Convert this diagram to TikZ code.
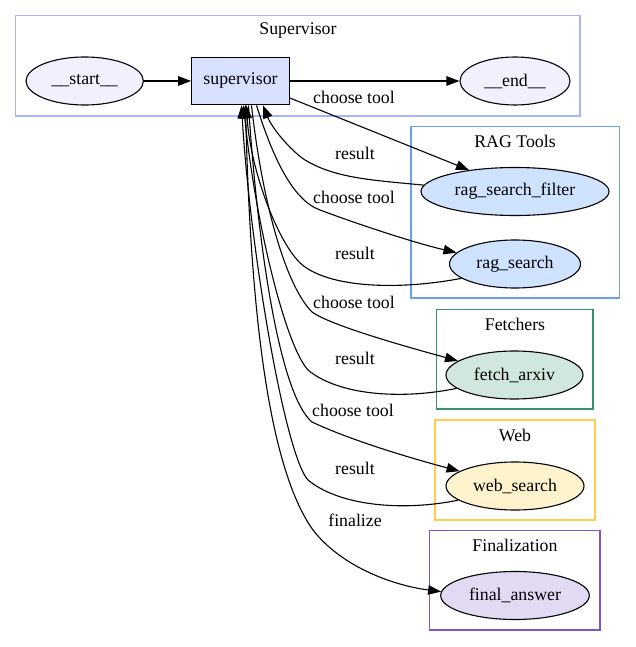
\documentclass[tikz,border=0pt]{standalone}
\usepackage{fontspec}
\newfontfamily\gvfont{LiberationSerif}[Extension=.ttf,UprightFont=*-Regular]
\usetikzlibrary{shapes.geometric,arrows.meta}
\definecolor{cSupB}{HTML}{A5B4FC}
\definecolor{cRagB}{HTML}{6A9EF5}
\definecolor{cFetB}{HTML}{3A8F68}
\definecolor{cWebB}{HTML}{FFCD4A}
\definecolor{cFinB}{HTML}{7A55CC}
\definecolor{cSE}{HTML}{F2F0FF}
\definecolor{cSup}{HTML}{D8E0FF}
\definecolor{cRag}{HTML}{CFE2FF}
\definecolor{cFet}{HTML}{D1E7DD}
\definecolor{cWeb}{HTML}{FFF3CD}
\definecolor{cFin}{HTML}{E2D9F3}
\begin{document}
\begin{tikzpicture}[x=1pt,y=-1pt,
  font=\gvfont\fontsize{17.8}{20}\selectfont,
  ell/.style={ellipse, draw=black, line width=1.1pt, inner sep=0pt, minimum height=48pt},
  sbox/.style={rectangle, draw=black, line width=1.1pt, fill=cSup, inner sep=0pt, minimum width=97.6pt, minimum height=47.7pt},
  clus/.style={line width=1.2pt},
  conn/.style={draw=black, line width=1.1pt, -{Triangle[length=13pt,width=9.5pt]}},
  lbl/.style={inner sep=0pt}]
\useasboundingbox (0,0) rectangle (635,647);
\fill[white] (0,0) rectangle (635,647);
% clusters
\draw[clus, draw=cSupB] (15.7,15.7) rectangle (580,116);
\draw[clus, draw=cRagB] (411,126.7) rectangle (619.3,298);
\draw[clus, draw=cFetB] (436.7,309.3) rectangle (593,409);
\draw[clus, draw=cWebB] (435,420) rectangle (595,520);
\draw[clus, draw=cFinB] (429.3,530.7) rectangle (600,630);
\node[lbl] (tSup) at (298,30.7) {Supervisor};
\node[lbl] (tRag) at (515,141) {RAG Tools};
\node[lbl] (tFet) at (515,324) {Fetchers};
\node[lbl] (tWeb) at (515,435) {Web};
\node[lbl] (tFin) at (515,545) {Finalization};
% nodes
\node[ell, fill=cSE, minimum width=117.4pt] (start) at (84.7,81) {\_\_start\_\_};
\node[sbox] (sup) at (240.5,81) {supervisor};
\node[ell, fill=cSE, minimum width=110pt] (end) at (515,81) {\_\_end\_\_};
\node[ell, fill=cRag, minimum width=188pt] (rsf) at (515,191.5) {rag\_search\_filter};
\node[ell, fill=cRag, minimum width=131pt] (rs) at (515,264) {rag\_search};
\node[ell, fill=cFet, minimum width=137pt] (fa) at (514.5,375) {fetch\_arxiv};
\node[ell, fill=cWeb, minimum width=138pt] (ws) at (515,486) {web\_search};
\node[ell, fill=cFin, minimum width=148.6pt] (fin) at (515,595.5) {final\_answer};
% edges
\draw[conn] (start) -- (sup);
\draw[conn] (sup) -- (end);
\draw[conn] (sup.-19.5) -- (rsf.155);
\draw[conn] (rsf.176) .. controls (370,180) and (335,178) .. (305,160) .. controls (290,150) and (272,128) .. ([xshift=22.5pt]sup.south);
\draw[conn] ([xshift=16pt]sup.south) .. controls (272,155) and (292,200) .. (320,210) .. controls (360,225) and (415,243) .. (rs.169);
\draw[conn] (rs.195.3) .. controls (400,290) and (335,288) .. (305,267) .. controls (280,250) and (250,170) .. ([xshift=6pt]sup.south);
\draw[conn] ([xshift=11pt]sup.south) .. controls (262,200) and (285,285) .. (312,312) .. controls (330,325) and (400,345) .. (fa.166.3);
\draw[conn] (fa.193.4) .. controls (400,400) and (338,395) .. (308,370) .. controls (285,345) and (255,220) .. ([xshift=3pt]sup.south);
\draw[conn] ([xshift=8pt]sup.south) .. controls (258,250) and (280,395) .. (312,422) .. controls (350,440) and (410,458) .. (ws.165.2);
\draw[conn] (ws.194.3) .. controls (400,512) and (338,505) .. (308,480) .. controls (285,455) and (250,250) .. ([xshift=1pt]sup.south);
\draw[conn] ([xshift=5pt]sup.south) .. controls (250,320) and (270,470) .. (313,530) .. controls (340,565) and (390,585) .. (fin.177);
% labels
\node[lbl] (l1) at (354,97) {choose tool};
\node[lbl] (l2) at (355,153) {result};
\node[lbl] (l3) at (354,197) {choose tool};
\node[lbl] (l4) at (355,253) {result};
\node[lbl] (l5) at (354,302) {choose tool};
\node[lbl] (l6) at (355,358) {result};
\node[lbl] (l7) at (353,410) {choose tool};
\node[lbl] (l8) at (355,468) {result};
\node[lbl] (l9) at (355,520) {finalize};
\end{tikzpicture}
\end{document}
